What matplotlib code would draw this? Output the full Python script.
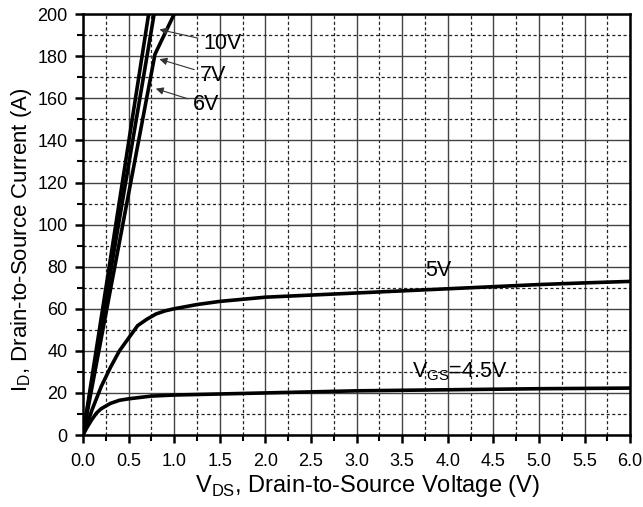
import matplotlib
matplotlib.use("Agg")
import matplotlib.pyplot as plt
from matplotlib.ticker import MultipleLocator

plt.rcParams['font.family'] = ['Liberation Sans', 'DejaVu Sans']
plt.rcParams['mathtext.fontset'] = 'custom'
plt.rcParams['mathtext.rm'] = 'Liberation Sans'

# Data
vds_45 = [0, 0.05, 0.1, 0.15, 0.2, 0.3, 0.4, 0.5, 0.75, 1.0, 1.5, 2.0, 3.0, 4.0, 5.0, 6.0]
id_45 = [0, 4, 7.5, 10.5, 12.5, 15, 16.5, 17.2, 18.5, 19, 19.5, 20, 21, 21.5, 22, 22.3]

vds_5 = [0, 0.1, 0.2, 0.3, 0.4, 0.5, 0.6, 0.7, 0.8, 0.9, 1.0, 1.25, 1.5, 2.0, 2.5, 3.0, 3.5, 4.0, 4.5, 5.0, 5.5, 6.0]
id_5 = [0, 12, 23, 32, 40, 46, 52, 55, 57.5, 59, 60, 62, 63.5, 65.5, 66.5, 67.5, 68.5, 69.5, 70.5, 71.5, 72.3, 73]

vds_6 = [0, 0.79, 1.0]
id_6 = [0, 181, 200]
vds_7 = [0, 0.78]
id_7 = [0, 200]
vds_10 = [0, 0.72]
id_10 = [0, 200]

x_ticks = [0.0, 0.5, 1.0, 1.5, 2.0, 2.5, 3.0, 3.5, 4.0, 4.5, 5.0, 5.5, 6.0]
y_ticks = [0, 20, 40, 60, 80, 100, 120, 140, 160, 180, 200]

fig = plt.figure(figsize=(6.43, 5.07), dpi=100)
ax = fig.add_axes([0.129, 0.142, 0.851, 0.830])

ax.set_xlim(0, 6)
ax.set_ylim(0, 200)
ax.set_xticks(x_ticks)
ax.set_xticklabels([f"{v:.1f}" for v in x_ticks])
ax.set_yticks(y_ticks)
ax.xaxis.set_minor_locator(MultipleLocator(0.25))
ax.yaxis.set_minor_locator(MultipleLocator(10))

ax.grid(which='major', color='#444444', linewidth=1.0, linestyle='-')
ax.grid(which='minor', color='#222222', linewidth=0.9, linestyle=(0, (2.5, 2)))
ax.set_axisbelow(True)

for s in ax.spines.values():
    s.set_linewidth(1.8)
    s.set_color('black')

ax.tick_params(which='major', direction='out', length=6, width=1.8, labelsize=13, colors='black', pad=5)
ax.tick_params(which='minor', direction='out', length=4, width=1.5)
ax.tick_params(axis='x', which='major', pad=7)

lw = 2.6
for x, y in [(vds_45, id_45), (vds_5, id_5), (vds_6, id_6), (vds_7, id_7), (vds_10, id_10)]:
    ax.plot(x, y, color='black', linewidth=lw, solid_capstyle='butt', clip_on=True)

ax.set_xlabel(r'V$_{\mathrm{DS}}$, Drain-to-Source Voltage (V)', fontsize=17)
ax.xaxis.set_label_coords(0.52, -0.091)
ax.set_ylabel(r'I$_{\mathrm{D}}$, Drain-to-Source Current (A)', fontsize=16)
ax.yaxis.set_label_coords(-0.09, 0.465)

arrowprops = dict(arrowstyle='-|>', color='#333333', lw=0.8, mutation_scale=11)
ax.annotate('10V', xy=(0.81, 193), xytext=(1.32, 186), fontsize=15.5, va='center', ha='left', arrowprops=arrowprops)
ax.annotate('7V', xy=(0.81, 179), xytext=(1.28, 171), fontsize=15.5, va='center', ha='left', arrowprops=arrowprops)
ax.annotate('6V', xy=(0.77, 165), xytext=(1.21, 157), fontsize=15.5, va='center', ha='left', arrowprops=arrowprops)

ax.text(3.75, 78, '5V', fontsize=15.5, va='center', ha='left')
ax.text(3.61, 30, r'V$_{\mathrm{GS}}$=4.5V', fontsize=15.5, va='center', ha='left')

fig.savefig('out.png', dpi=100)
